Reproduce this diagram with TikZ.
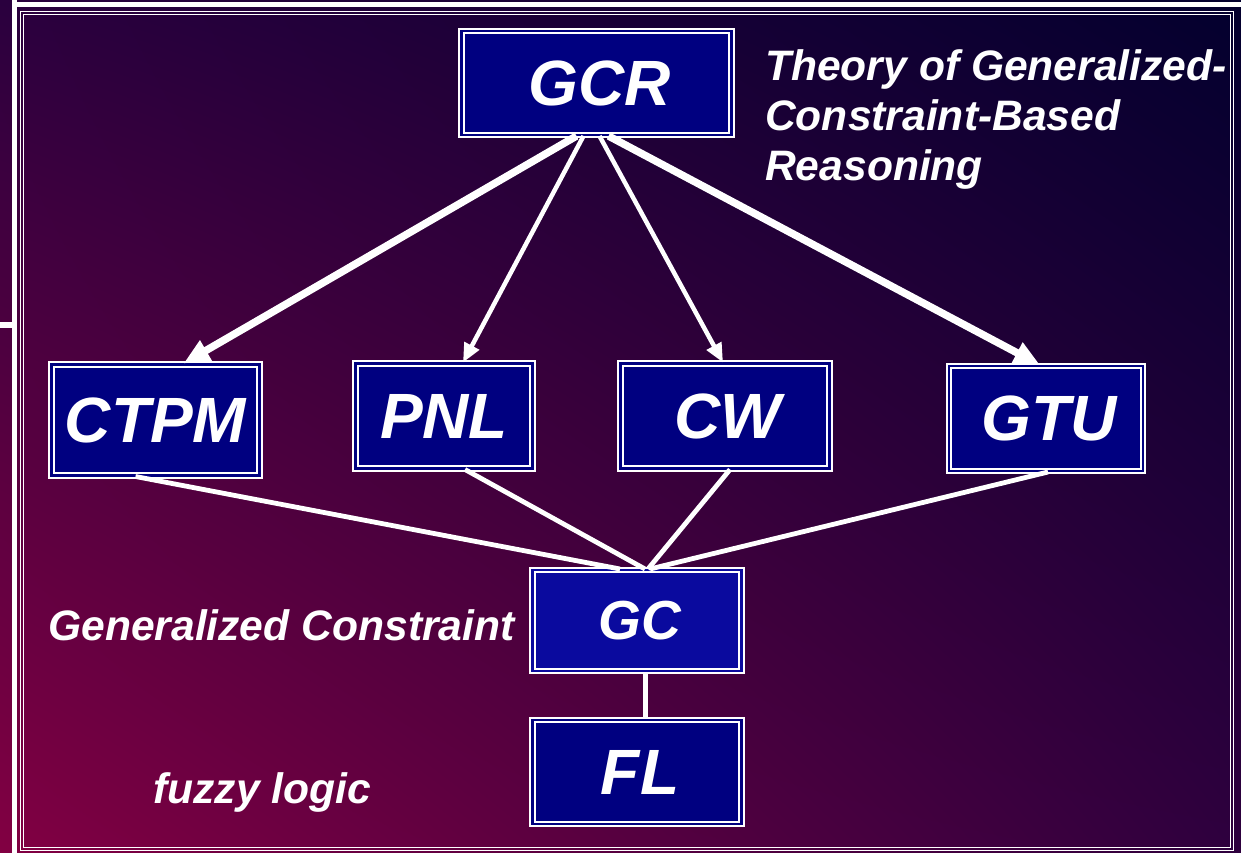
\documentclass[tikz,border=0pt]{standalone}
\usepackage{fontspec}
\setmainfont{Liberation Sans}
\usetikzlibrary{calc}
\usetikzlibrary{positioning}
\usetikzlibrary{arrows.meta}
\usetikzlibrary{shadings}

\definecolor{boxblue}{HTML}{000080}
\definecolor{gcblue}{HTML}{0A0A9E}
\definecolor{bgmaroon}{HTML}{820042}
\definecolor{bgnavy}{HTML}{03002E}
\definecolor{bgpurpleA}{HTML}{2A003E}
\definecolor{bgpurpleB}{HTML}{2E003E}

\tikzset{
  box/.style={draw=white, line width=2pt, double=boxblue, double distance=2.5pt,
    fill=boxblue, text=white, inner sep=0pt,
    font=\bfseries\itshape\fontsize{64}{64}\selectfont},
  note/.style={text=white, inner sep=0pt, font=\bfseries\itshape\fontsize{42.6}{50}\selectfont},
  heavy/.style={white, line width=7.5pt, -{Triangle[length=26pt,width=22pt]}},
  light/.style={white, line width=4.5pt, -{Triangle[length=19pt,width=16pt]}},
  link/.style={white, line width=4.8pt},
}

\begin{document}
\begin{tikzpicture}[x=1pt,y=-1pt]
\useasboundingbox (0,0) rectangle (1241,853);
\shade[upper left=bgpurpleA, upper right=bgnavy, lower left=bgmaroon, lower right=bgpurpleB]
  (0,0) rectangle (1241,853);
\draw[white, line width=5pt] (14.5,0) -- (14.5,853);
\draw[white, line width=5pt] (12,4.5) -- (1241,4.5);
\draw[white, line width=6pt] (0,325) -- (12,325);
\draw[white, line width=1.2pt] (20.5,11.5) rectangle (1233.5,850.5);
\draw[white, line width=1.2pt] (23.5,14.5) rectangle (1230.5,847.5);

\node[box, minimum width=270pt, minimum height=104pt] (gcr) at (596.5,83) {\hspace*{6pt}GCR};
\node[box, minimum width=208pt, minimum height=111pt] (ctpm) at (155.5,420) {CTPM};
\node[box, minimum width=177pt, minimum height=105pt] (pnl) at (444,416) {PNL};
\node[box, minimum width=209pt, minimum height=105pt] (cw) at (725,416) {\hspace*{6pt}CW};
\node[box, minimum width=194pt, minimum height=105pt] (gtu) at (1046,418.5) {\hspace*{6pt}GTU};
\node[box, double=gcblue, fill=gcblue, minimum width=209pt, minimum height=101pt,
  font=\bfseries\itshape\fontsize{55}{55}\selectfont] (gc) at (637,620.5) {\hspace*{6pt}GC};
\node[box, minimum width=209pt, minimum height=104pt] (fl) at (637,772) {\hspace*{6pt}FL};

\node[note, anchor=north west, align=left] (theory) at (765,49)
  {Theory of Generalized-\\Constraint-Based\\Reasoning};
\node[note, anchor=base west] (gclabel) at (48,640) {Generalized Constraint};
\node[note, anchor=base west] (fllabel) at (153,803) {fuzzy logic};

\draw[heavy] ([xshift=-20pt]gcr.south) -- ([xshift=28pt]ctpm.north);
\draw[light] ([xshift=-13pt]gcr.south) -- ([xshift=19pt]pnl.north);
\draw[light] ([xshift=3pt]gcr.south) -- ([xshift=-2pt]cw.north);
\draw[heavy] ([xshift=12pt]gcr.south) -- ([xshift=-6pt]gtu.north);

\draw[link] ([xshift=-20pt]ctpm.south) -- ([xshift=-17pt]gc.north);
\draw[link] ([xshift=21pt]pnl.south) -- ([xshift=8pt]gc.north);
\draw[link] ([xshift=5pt]cw.south) -- ([xshift=11pt]gc.north);
\draw[link] ([xshift=2pt]gtu.south) -- ([xshift=13pt]gc.north);
\draw[white, line width=5pt] ([xshift=8pt]gc.south) -- ([xshift=8pt]fl.north);
\end{tikzpicture}
\end{document}
